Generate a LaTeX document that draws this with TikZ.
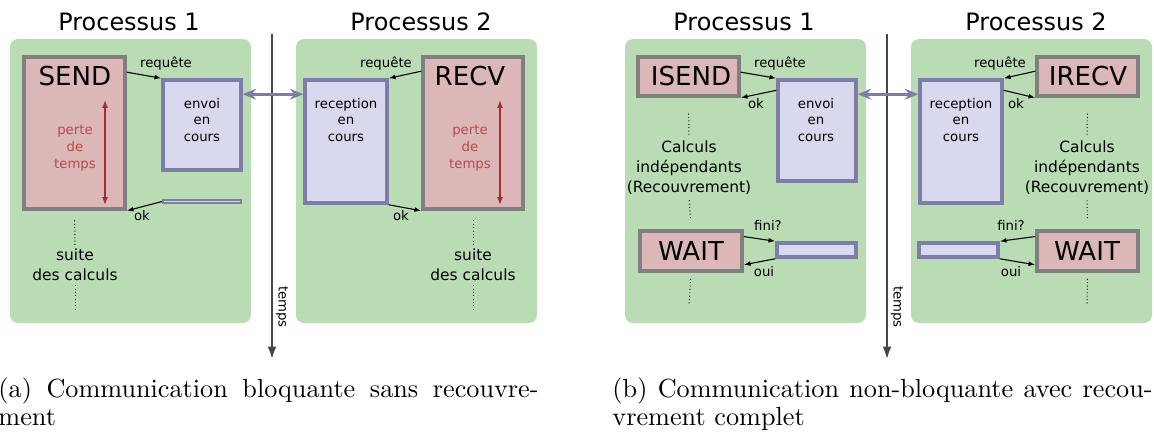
\documentclass[tikz,border=0pt]{standalone}
\usepackage{fontspec}
\setsansfont{DejaVu Sans}
\usetikzlibrary{arrows.meta,fit}

\definecolor{procgreen}{RGB}{185,220,181}
\definecolor{callpink}{RGB}{220,183,183}
\definecolor{callgray}{RGB}{128,128,128}
\definecolor{comfill}{RGB}{216,216,238}
\definecolor{comedge}{RGB}{125,125,168}
\definecolor{lossred}{RGB}{165,45,45}
\definecolor{losstext}{RGB}{185,75,75}
\definecolor{axisgray}{RGB}{70,70,70}

\begin{document}
\begin{tikzpicture}[x=0.414pt, y=-0.414pt,
    procbox/.style={fill=procgreen, rounded corners=3.3pt, inner sep=0pt},
    callbox/.style={draw=callgray, fill=callpink, line width=1.45pt, inner sep=0pt},
    combox/.style={draw=comedge, fill=comfill, line width=1.45pt, inner sep=0pt},
    proctitle/.style={font=\sffamily\fontsize{9.9}{12}\selectfont, inner sep=0pt},
    big/.style={font=\sffamily\fontsize{10.8}{13}\selectfont, inner sep=0pt},
    note/.style={font=\sffamily\fontsize{5.5}{7}\selectfont, align=center, inner sep=0pt},
    lbl/.style={font=\sffamily\fontsize{5.5}{7}\selectfont, inner sep=0pt},
    overlap/.style={font=\sffamily\fontsize{6.4}{8.3}\selectfont, align=center, inner sep=0pt},
    msg/.style={-{Latex[length=2.8pt,width=2pt]}, line width=0.45pt},
    xfer/.style={{Stealth[length=5.5pt,width=4.5pt]}-{Stealth[length=5.5pt,width=4.5pt]}, comedge, line width=1.1pt},
    lost/.style={{Latex[length=3.3pt,width=2.5pt]}-{Latex[length=3.3pt,width=2.5pt]}, lossred, line width=0.6pt},
    timeline/.style={-{Latex[length=5.5pt,width=3.6pt]}, axisgray, line width=1.2pt},
    ellip/.style={densely dotted, line width=0.4pt},
    subcap/.style={font=\rmfamily\fontsize{10.85}{11.6}\selectfont, text width=223.6pt, align=justify, inner sep=0pt, anchor=base west}]
    \useasboundingbox (0,0) rectangle (1154,434);

    % (a) Processus 1
    \node[procbox, fit={(10,39) (251,323)}] (procA1) {};
    \node[proctitle, anchor=base] (titleA1) at (129,30) {Processus 1};
    \node[callbox, fit={(24,57) (125,209)}] (send) {};
    \node[big, anchor=base] (sendtxt) at (75,85) {SEND};
    \node[note, text=losstext] (lossA1) at (75,148) {perte\\de\\temps};
    \coordinate (lossA1top) at (105,100);
    \coordinate (lossA1bot) at (105,205);
    \draw[lost] (lossA1top) -- (lossA1bot);
    \node[combox, fit={(163,80) (241,170)}] (envoiA) {};
    \node[note] (envoiAtxt) at (202,120) {envoi\\en\\cours};
    \node[combox, line width=0.9pt, fit={(163,200) (241,203)}] (doneA) {};
    \draw[msg] ([yshift=-7pt]send.north east) -- (envoiA.north west);
    \node[lbl, anchor=base] (reqA1) at (166,67) {requête};
    \draw[msg] (doneA.west) -- (send.south east);
    \node[lbl, anchor=base] (okA1) at (142,220) {ok};
    \node[overlap] (suiteA1) at (75,265) {suite\\des calculs};
    \draw[ellip, shorten <=4pt, shorten >=1.5pt] (send.south) -- (suiteA1.north);
    \coordinate (endA1) at (75,310);
    \draw[ellip, shorten <=1.5pt] (suiteA1.south) -- (endA1);

    % (a) Processus 2
    \node[procbox, fit={(296,39) (537,323)}] (procA2) {};
    \node[proctitle, anchor=base] (titleA2) at (421,30) {Processus 2};
    \node[combox, fit={(305,80) (387,203)}] (recA) {};
    \node[note] (recAtxt) at (346,120) {reception\\en\\cours};
    \node[callbox, fit={(423,57) (523,209)}] (recv) {};
    \node[big, anchor=base] (recvtxt) at (470,85) {RECV};
    \node[note, text=losstext] (lossA2) at (470,148) {perte\\de\\temps};
    \coordinate (lossA2top) at (500,100);
    \coordinate (lossA2bot) at (500,205);
    \draw[lost] (lossA2top) -- (lossA2bot);
    \draw[msg] ([yshift=-6.6pt]recv.north west) -- (recA.north east);
    \node[lbl, anchor=base] (reqA2) at (386,67) {requête};
    \draw[msg] (recA.south east) -- (recv.south west);
    \node[lbl, anchor=base] (okA2) at (401,220) {ok};
    \node[overlap] (suiteA2) at (473,265) {suite\\des calculs};
    \draw[ellip, shorten <=4pt, shorten >=1.5pt] (recv.south) -- (suiteA2.north);
    \coordinate (endA2) at (473,310);
    \draw[ellip, shorten <=1.5pt] (suiteA2.south) -- (endA2);

    % (a) time axis and transfer
    \coordinate (timeAtop) at (272,34);
    \coordinate (timeAbot) at (272,360);
    \draw[timeline] (timeAtop) -- (timeAbot);
    \node[lbl, rotate=-90] (tempsA) at (282,307) {temps};
    \draw[xfer] ([yshift=-6.6pt]envoiA.north east) -- ([yshift=-6.6pt]recA.north west);

    % (b) Processus 1
    \node[procbox, fit={(625,39) (866,323)}] (procB1) {};
    \node[proctitle, anchor=base] (titleB1) at (744,30) {Processus 1};
    \node[callbox, fit={(638,57) (739,96)}] (isend) {};
    \node[big, anchor=base] (isendtxt) at (691,85) {ISEND};
    \node[combox, fit={(778,80) (856,181)}] (envoiB) {};
    \node[note] (envoiBtxt) at (816,120) {envoi\\en\\cours};
    \draw[msg] ([yshift=-7pt]isend.north east) -- (envoiB.north west);
    \node[lbl, anchor=base] (reqB1) at (780,67) {requête};
    \draw[msg] ([yshift=-5pt]envoiB.north west) -- (isend.south east);
    \node[lbl, anchor=base] (okB1) at (756,108) {ok};
    \node[overlap] (indepB1) at (689,168) {Calculs\\indépendants\\(Recouvrement)};
    \node[callbox, fit={(640,231) (742,271)}] (waitB1) {};
    \node[big, anchor=base] (waitB1txt) at (691,260) {WAIT};
    \node[combox, fit={(777,243) (856,257)}] (doneB1) {};
    \draw[msg] ([yshift=-3pt]waitB1.north east) -- (doneB1.north west);
    \node[lbl, anchor=base] (finiB1) at (768,230) {fini?};
    \draw[msg] (doneB1.south west) -- ([yshift=3.3pt]waitB1.south east);
    \node[lbl, anchor=base] (ouiB1) at (764,276) {oui};
    \draw[ellip, shorten <=6.6pt, shorten >=2.5pt] (isend.south) -- (indepB1.north);
    \draw[ellip, shorten <=2pt, shorten >=4pt] (indepB1.south) -- (waitB1.north);
    \coordinate (endB1) at (689,305);
    \draw[ellip, shorten <=2.5pt] (waitB1.south) -- (endB1);

    % (b) Processus 2
    \node[procbox, fit={(911,39) (1152,323)}] (procB2) {};
    \node[proctitle, anchor=base] (titleB2) at (1036,30) {Processus 2};
    \node[combox, fit={(920,80) (1002,203)}] (recB) {};
    \node[note] (recBtxt) at (961,120) {reception\\en\\cours};
    \node[callbox, fit={(1037,57) (1138,96)}] (irecv) {};
    \node[big, anchor=base] (irecvtxt) at (1088,85) {IRECV};
    \draw[msg] ([yshift=-6.6pt]irecv.north west) -- (recB.north east);
    \node[lbl, anchor=base] (reqB2) at (1000,67) {requête};
    \draw[msg] ([yshift=-5pt]recB.north east) -- (irecv.south west);
    \node[lbl, anchor=base] (okB2) at (1016,108) {ok};
    \node[overlap] (indepB2) at (1087,168) {Calculs\\indépendants\\(Recouvrement)};
    \node[callbox, fit={(1037,231) (1138,271)}] (waitB2) {};
    \node[big, anchor=base] (waitB2txt) at (1087,260) {WAIT};
    \node[combox, fit={(919,243) (998,257)}] (doneB2) {};
    \draw[msg] ([yshift=-3pt]waitB2.north west) -- (doneB2.north east);
    \node[lbl, anchor=base] (finiB2) at (1011,230) {fini?};
    \draw[msg] (doneB2.south east) -- ([yshift=3.3pt]waitB2.south west);
    \node[lbl, anchor=base] (ouiB2) at (1011,276) {oui};
    \draw[ellip, shorten <=6.6pt, shorten >=2.5pt] (irecv.south) -- (indepB2.north);
    \draw[ellip, shorten <=2pt, shorten >=4pt] (indepB2.south) -- (waitB2.north);
    \coordinate (endB2) at (1087,305);
    \draw[ellip, shorten <=2.5pt] (waitB2.south) -- (endB2);

    % (b) time axis and transfer
    \coordinate (timeBtop) at (887,34);
    \coordinate (timeBbot) at (887,360);
    \draw[timeline] (timeBtop) -- (timeBbot);
    \node[lbl, rotate=-90] (tempsB) at (897,307) {temps};
    \draw[xfer] ([yshift=-6.6pt]envoiB.north east) -- ([yshift=-6.6pt]recB.north west);

    % Captions
    \node[subcap] (capA) at (-2,397) {(a) Communication bloquante sans recouvre-\linebreak ment};
    \node[subcap] (capB) at (612,397) {(b) Communication non-bloquante avec recou-\linebreak vrement complet};
\end{tikzpicture}
\end{document}
